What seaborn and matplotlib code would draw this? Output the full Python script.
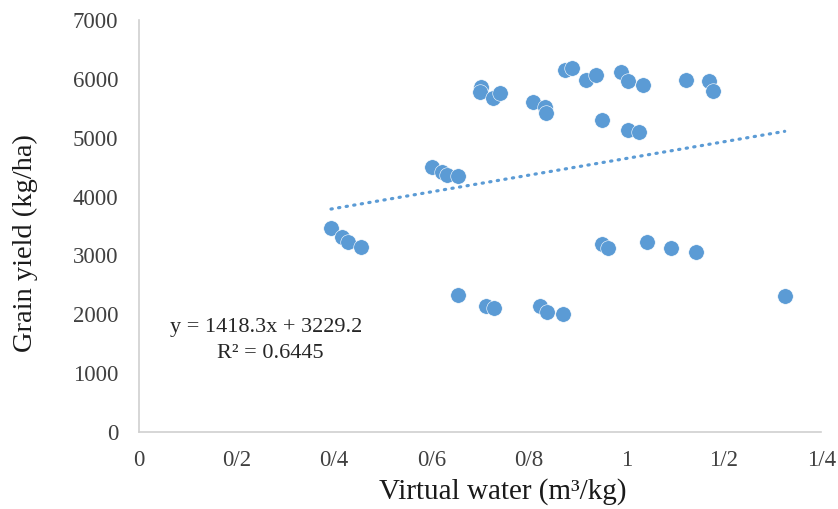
import numpy as np
import matplotlib
matplotlib.use('Agg')
import matplotlib.pyplot as plt
import seaborn as sns

# Data (virtual water m3/kg vs grain yield kg/ha)
virtual_water = [0.394, 0.416, 0.429, 0.455,
                 0.601, 0.622, 0.632, 0.654,
                 0.654, 0.712, 0.728, 0.823, 0.837, 0.870,
                 0.702, 0.699, 0.726, 0.741, 0.808, 0.833, 0.835,
                 0.874, 0.888, 0.917, 0.937, 0.989, 1.003, 1.034,
                 1.122, 1.169, 1.177,
                 0.950, 1.003, 1.026,
                 0.950, 0.962, 1.042, 1.091, 1.143, 1.325]
grain_yield = [3466, 3313, 3228, 3143,
               4502, 4417, 4366, 4349,
               2328, 2141, 2107, 2141, 2039, 2005,
               5861, 5777, 5675, 5759, 5607, 5522, 5420,
               6150, 6184, 5980, 6065, 6116, 5963, 5895,
               5980, 5963, 5793,
               5301, 5131, 5097,
               3194, 3126, 3228, 3126, 3058, 2311]

slope = 1418.3
intercept = 3229.2
r_squared = 0.6445

x_ticks = [0, 0.2, 0.4, 0.6, 0.8, 1.0, 1.2, 1.4]
x_tick_labels = ['0', '0/2', '0/4', '0/6', '0/8', '1', '1/2', '1/4']
y_ticks = [0, 1000, 2000, 3000, 4000, 5000, 6000, 7000]

sns.set_style('white')
plt.rcParams['font.family'] = ['Liberation Serif', 'DejaVu Serif']

blue = '#5B9BD5'
fig = plt.figure(figsize=(8.38, 5.09), dpi=100)
ax = fig.add_axes([0.1659, 0.1513, 0.8141, 0.8094])

sns.scatterplot(x=virtual_water, y=grain_yield, ax=ax, color=blue, s=125,
                edgecolor='white', linewidth=0.4, zorder=3)

# Linear trendline over the data range
xs = np.array([min(virtual_water), max(virtual_water)])
ax.plot(xs, slope * xs + intercept, color=blue, linestyle=(0, (0.4, 2.0)),
        linewidth=2.3, dash_capstyle='round', zorder=2)

ax.text(0.064, 1767, f'y = {slope}x + {intercept}', ha='left', va='center',
        fontsize=16, color='#262626')
ax.text(0.269, 1342, f'R² = {r_squared}', ha='center', va='center',
        fontsize=16, color='#262626')

ax.set_xlim(0, 1.4)
ax.set_ylim(0, 7000)
ax.set_xticks(x_ticks)
ax.set_xticklabels(x_tick_labels)
ax.set_yticks(y_ticks)
ax.tick_params(axis='both', labelsize=16.5, length=0, colors='#404040')
ax.tick_params(axis='x', pad=13)
ax.tick_params(axis='y', pad=15)

for side in ['top', 'right']:
    ax.spines[side].set_visible(False)
for side in ['left', 'bottom']:
    ax.spines[side].set_color('#d0d0d0')
    ax.spines[side].set_linewidth(1.2)

ax.set_xlabel('Virtual water (m³/kg)', fontsize=21, color='#1a1a1a')
ax.set_ylabel('Grain yield (kg/ha)', fontsize=20.5, color='#1a1a1a')
ax.xaxis.set_label_coords(0.533, -0.145)
ax.xaxis.label.set_verticalalignment('center')
ax.yaxis.set_label_coords(-0.167, 0.459)
ax.yaxis.label.set_verticalalignment('center')

fig.savefig('out.png', dpi=100)
